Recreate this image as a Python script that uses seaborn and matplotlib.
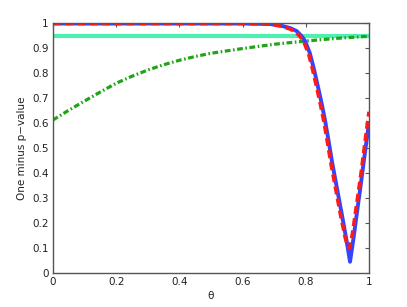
import matplotlib
matplotlib.use("Agg")
import matplotlib.pyplot as plt
import seaborn as sns
import pandas as pd

# Data
theta_blue = [0.0, 0.3, 0.6, 0.65, 0.687, 0.72, 0.75, 0.771, 0.785, 0.797, 0.813, 0.826, 0.838,
              0.850, 0.861, 0.872, 0.883, 0.90, 0.914, 0.929, 0.94, 0.95, 0.966, 0.972, 0.987, 1.0]
val_blue = [0.998, 0.998, 0.998, 0.997, 0.996, 0.99, 0.98, 0.968, 0.95, 0.93, 0.879, 0.815, 0.748,
            0.68, 0.61, 0.53, 0.445, 0.33, 0.235, 0.13, 0.045, 0.13, 0.28, 0.335, 0.48, 0.60]

theta_red = [0.0, 0.3, 0.6, 0.65, 0.687, 0.72, 0.75, 0.767, 0.781, 0.793, 0.809, 0.822, 0.834,
             0.846, 0.857, 0.868, 0.879, 0.896, 0.910, 0.925, 0.933, 0.938, 0.943, 0.948,
             0.962, 0.975, 0.987, 1.0]
val_red = [0.998, 0.998, 0.998, 0.997, 0.995, 0.988, 0.976, 0.965, 0.947, 0.927, 0.876, 0.812,
           0.745, 0.677, 0.607, 0.527, 0.442, 0.327, 0.232, 0.14, 0.105, 0.10, 0.125, 0.16,
           0.285, 0.40, 0.52, 0.645]

theta_green = [0.0, 0.05, 0.1, 0.15, 0.2, 0.25, 0.3, 0.35, 0.4, 0.45, 0.5, 0.6, 0.7, 0.8, 0.9, 1.0]
val_green = [0.612, 0.651, 0.688, 0.724, 0.759, 0.787, 0.812, 0.833, 0.851, 0.866, 0.879,
             0.898, 0.915, 0.928, 0.939, 0.947]

theta_cyan = [0.0, 1.0]
val_cyan = [0.95, 0.95]

xticks = [0, 0.2, 0.4, 0.6, 0.8, 1]
xticklabels = ["0", "0.2", "0.4", "0.6", "0.8", "1"]
yticks = [0, 0.1, 0.2, 0.3, 0.4, 0.5, 0.6, 0.7, 0.8, 0.9, 1]
yticklabels = ["0", "0.1", "0.2", "0.3", "0.4", "0.5", "0.6", "0.7", "0.8", "0.9", "1"]

sns.set_style("white")
plt.rcParams['font.family'] = ['DejaVu Sans']

fig = plt.figure(figsize=(4.07, 3.07), dpi=100)
ax = fig.add_axes([0.130, 0.1107, 0.7766, 0.8143])

df_c = pd.DataFrame({"theta": theta_cyan, "v": val_cyan})
df_g = pd.DataFrame({"theta": theta_green, "v": val_green})
df_b = pd.DataFrame({"theta": theta_blue, "v": val_blue})
df_r = pd.DataFrame({"theta": theta_red, "v": val_red})

sns.lineplot(data=df_c, x="theta", y="v", ax=ax, color="#4df0b0", linewidth=3.0)
sns.lineplot(data=df_g, x="theta", y="v", ax=ax, color="#1fa514", linewidth=2.3,
             linestyle=(0, (1.8, 0.8, 0.5, 0.8)))
sns.lineplot(data=df_b, x="theta", y="v", ax=ax, color="#3344ff", linewidth=2.8)
sns.lineplot(data=df_r, x="theta", y="v", ax=ax, color="#ff1a1a", linewidth=2.6,
             linestyle=(0, (2.2, 1.2)))

ax.set_xlim(0, 1)
ax.set_ylim(0, 1)
ax.set_xticks(xticks)
ax.set_xticklabels(xticklabels)
ax.set_yticks(yticks)
ax.set_yticklabels(yticklabels)
ax.tick_params(direction="in", length=3, width=0.8, labelsize=7.5, colors="#555555",
               labelcolor="#222222", top=True, right=True, pad=3)
for s in ax.spines.values():
    s.set_color("#555555")
    s.set_linewidth(1.0)
    s.set_visible(True)
ax.set_xlabel("θ", fontsize=7.5, color="#222222", labelpad=3)
ax.set_ylabel("One minus p\u2212value", fontsize=7.5, color="#222222", labelpad=4)

fig.savefig("out.png", dpi=100)
